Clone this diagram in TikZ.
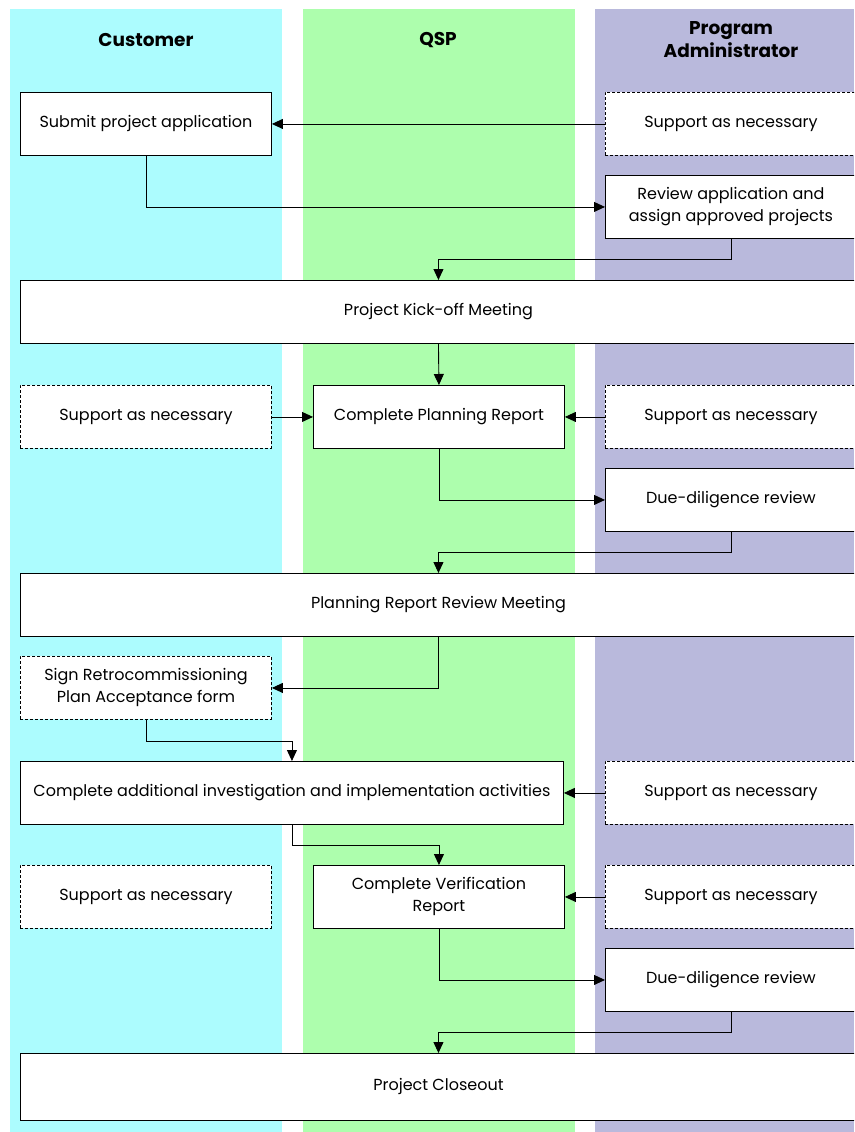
\documentclass[tikz,border=0pt]{standalone}
\usepackage{fontspec}
\setmainfont{Poppins}
\usetikzlibrary{arrows.meta}
\definecolor{custc}{RGB}{172,252,254}
\definecolor{qspc}{RGB}{173,254,173}
\definecolor{pac}{RGB}{185,185,220}
\begin{document}
\begin{tikzpicture}[x=1pt,y=-1pt,
  box/.style={draw=black, fill=white, line width=0.9pt, minimum height=63pt, inner sep=0pt,
    align=center, anchor=north west, font=\fontsize{16}{22}\selectfont},
  nbox/.style={box, minimum width=251pt},
  dbox/.style={nbox, dash pattern=on 3pt off 2pt},
  wbox/.style={box, minimum width=836pt},
  head/.style={font=\fontsize{18.5}{23}\selectfont\bfseries, align=center},
  arr/.style={draw=black, line width=0.9pt, -{Triangle[length=11pt,width=10pt]}}]
\useasboundingbox (0,0) rectangle (854,1132);
\clip (0,0) rectangle (854,1132);
\fill[white] (0,0) rectangle (854,1132);
% lanes
\fill[custc] (10,9) rectangle (282,1132);
\fill[qspc] (303,9) rectangle (575,1132);
\fill[pac] (595,9) rectangle (854,1132);
% headers
\node[head] (hc) at (146,40) {Customer};
\node[head] (hq) at (438,40) {QSP};
\node[head] (hp) at (731,40) {Program\\Administrator};
% boxes
\node[nbox] (sub) at (20,92) {Submit project application};
\node[dbox] (sp1) at (605,92) {Support as necessary};
\node[nbox] (rev) at (605,175) {Review application and\\assign approved projects};
\node[wbox] (kick) at (20,280) {Project Kick-off Meeting};
\node[dbox] (sc1) at (20,385) {Support as necessary};
\node[nbox] (plan) at (313,385) {Complete Planning Report};
\node[dbox] (sp2) at (605,385) {Support as necessary};
\node[nbox] (due1) at (605,468) {Due-diligence review};
\node[wbox] (prm) at (20,573) {Planning Report Review Meeting};
\node[dbox] (sign) at (20,656) {Sign Retrocommissioning\\Plan Acceptance form};
\node[box, minimum width=543pt] (cai) at (20,761) {Complete additional investigation and implementation activities};
\node[dbox] (sp3) at (605,761) {Support as necessary};
\node[dbox] (sc2) at (20,865) {Support as necessary};
\node[nbox] (ver) at (313,865) {Complete Verification\\Report};
\node[dbox] (sp4) at (605,865) {Support as necessary};
\node[nbox] (due2) at (605,948) {Due-diligence review};
\node[wbox, minimum height=67pt] (close) at (20,1053) {Project Closeout};
% connectors
\draw[arr] (sp1.west) -- (sub.east);
\draw[arr] (sub.south) |- (rev.west);
\draw[arr] (rev.south) -- ++(0,21) -| (kick.north);
\draw[arr] (kick.south) -- (plan.north);
\draw[arr] (sc1.east) -- (plan.west);
\draw[arr] (sp2.west) -- (plan.east);
\draw[arr] (plan.south) |- (due1.west);
\draw[arr] (due1.south) -- ++(0,21) -| (prm.north);
\draw[arr] (prm.south) |- (sign.east);
\draw[arr] (sign.south) -- ++(0,22) -| (cai.north);
\draw[arr] (sp3.west) -- (cai.east);
\draw[arr] (cai.south) -- ++(0,21) -| (ver.north);
\draw[arr] (sp4.west) -- (ver.east);
\draw[arr] (ver.south) |- (due2.west);
\draw[arr] (due2.south) -- ++(0,21) -| (close.north);
\end{tikzpicture}
\end{document}
